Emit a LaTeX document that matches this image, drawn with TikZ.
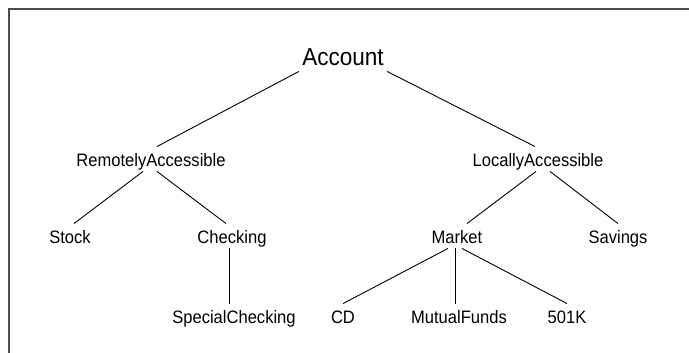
\documentclass[tikz,border=0pt]{standalone}
\usepackage{fontspec}
\setmainfont[FakeStretch=0.92]{Liberation Sans}

\begin{document}
\begin{tikzpicture}[x=1pt,y=-1pt,line width=0.9pt]
        \tikzstyle{class}=[anchor=base,text height=18pt,text depth=4pt,inner ysep=1pt,inner xsep=0pt,font=\fontsize{18}{21}\selectfont]
        \tikzstyle{root class}=[class,inner xsep=3pt,font=\fontsize{24.5}{28}\selectfont]
        \tikzstyle{frame}=[draw=black!70,line width=1.6pt]

        \useasboundingbox (0,0) rectangle (689,353);
        \draw[frame] (689,9) -- (9,9) -- (9,353);

        % Draw the root class
        \node[root class] (Acc) at (343,66) {Account};

        % Draw the second level
        \node[class] (Remote) at (151,166) {RemotelyAccessible};
        \node[class] (Local) at (538,166) {LocallyAccessible};

        % Draw the third level
        \node[class] (Stock) at (70,243) {Stock};
        \node[class] (Checking) at (232,243) {Checking};
        \node[class] (Market) at (457,243) {Market};
        \node[class] (Savings) at (618,243) {Savings};

        % Draw the leaves
        \node[class] (Special) at (234,323) {SpecialChecking};
        \node[class] (CD) at (343,323) {CD};
        \node[class] (Mutual) at (459,323) {MutualFunds};
        \node[class] (K501) at (567,323) {501K};

        % Connect the root with the second level
        \path (Acc.south west) edge ([xshift=6pt]Remote.north);
        \path (Acc.south east) edge ([xshift=-3pt]Local.north);

        % Connect the second level with the third level
        \path ([xshift=-8pt]Remote.south) edge ([xshift=4pt]Stock.north);
        \path ([xshift=6pt]Remote.south) edge ([xshift=-6pt]Checking.north);
        \path ([xshift=-2pt]Local.south) edge ([xshift=10pt]Market.north);
        \path ([xshift=12pt]Local.south) edge (Savings.north);

        % Connect the third level with the leaves
        \path ([xshift=-3pt]Checking.south) edge ([xshift=-3pt]Checking.south |- Special.north);
        \foreach \dest/\shift in {CD/-9, K501/5}
            \path ([xshift=\shift pt]Market.south) edge (\dest.north);
        \path ([xshift=-2pt]Market.south) edge ([xshift=-2pt]Market.south |- Mutual.north);
    \end{tikzpicture}
\end{document}
